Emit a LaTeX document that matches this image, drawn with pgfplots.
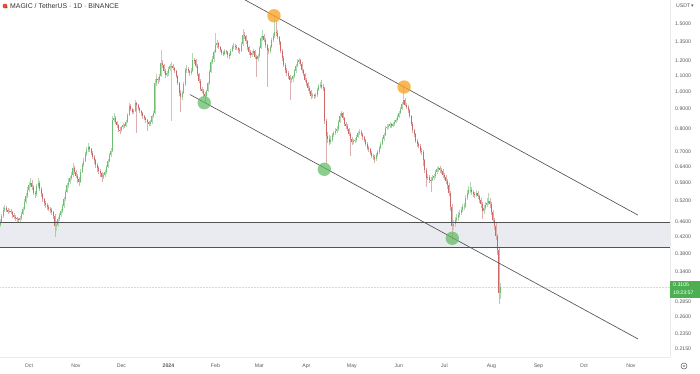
\documentclass[border=0pt]{standalone}
\usepackage{pgfplots}
\pgfplotsset{compat=1.18}
\usepackage{pgfplotstable}
\usepackage{fontspec}
\setmainfont{Liberation Sans}
\newfontfamily\dejavu{DejaVu Sans}
\definecolor{upc}{HTML}{6DBE71}
\definecolor{dnc}{HTML}{CF6767}
\definecolor{upw}{HTML}{B3D9B4}
\definecolor{dnw}{HTML}{DDB0B0}
\definecolor{zonec}{HTML}{E9EBF0}
\definecolor{tvgreen}{HTML}{4CAF50}
\definecolor{orangec}{HTML}{F7A52A}
\definecolor{greenc}{HTML}{5DB85F}
\definecolor{lab}{HTML}{5A5A5A}
\pgfplotstableread{
d o h l c
-19 .452 .466 .446 .459
-18 .459 .482 .455 .476
-17 .476 .502 .470 .493
-16 .493 .508 .486 .498
-15 .498 .505 .488 .494
-14 .494 .499 .481 .488
-13 .488 .497 .483 .491
-12 .491 .496 .480 .487
-11 .487 .490 .470 .477
-10 .477 .484 .466 .473
-9 .473 .478 .462 .469
-8 .469 .474 .458 .466
-7 .466 .471 .459 .465
-6 .465 .475 .460 .469
-5 .469 .486 .464 .481
-4 .481 .503 .477 .497
-3 .497 .525 .492 .517
-2 .517 .545 .511 .536
-1 .536 .566 .530 .554
0 .554 .583 .548 .572
1 .572 .598 .566 .579
2 .579 .588 .556 .565
3 .565 .571 .538 .546
4 .546 .553 .530 .541
5 .541 .575 .536 .568
6 .568 .596 .561 .580
7 .580 .586 .551 .560
8 .560 .566 .533 .541
9 .541 .546 .517 .525
10 .525 .531 .505 .513
11 .513 .520 .499 .507
12 .507 .514 .494 .501
13 .501 .508 .490 .497
14 .497 .503 .485 .492
15 .492 .498 .478 .486
16 .486 .490 .466 .475
17 .475 .480 .419 .448
18 .448 .461 .436 .450
19 .450 .472 .445 .467
20 .467 .483 .462 .477
21 .477 .495 .473 .489
22 .489 .511 .485 .505
23 .505 .533 .500 .526
24 .526 .556 .521 .550
25 .550 .579 .545 .571
26 .571 .595 .563 .582
27 .582 .605 .576 .595
28 .595 .618 .588 .607
29 .607 .652 .601 .635
30 .635 .641 .610 .619
31 .619 .627 .595 .605
32 .605 .611 .578 .594
33 .594 .600 .568 .584
34 .584 .628 .580 .620
35 .620 .653 .614 .645
36 .645 .672 .637 .661
37 .661 .697 .655 .688
38 .688 .718 .680 .704
39 .704 .735 .697 .716
40 .716 .724 .698 .708
41 .708 .715 .685 .694
42 .694 .699 .669 .678
43 .678 .684 .650 .663
44 .663 .668 .632 .646
45 .646 .651 .620 .633
46 .633 .640 .612 .622
47 .622 .628 .600 .613
48 .613 .617 .583 .599
49 .599 .613 .592 .607
50 .607 .624 .601 .617
51 .617 .645 .611 .638
52 .638 .670 .632 .661
53 .661 .694 .655 .685
54 .685 .712 .678 .700
55 .700 .862 .695 .844
56 .844 .878 .832 .856
57 .856 .864 .824 .833
58 .833 .840 .806 .819
59 .819 .825 .785 .797
60 .797 .808 .774 .795
61 .795 .816 .786 .808
62 .808 .828 .800 .819
63 .819 .826 .805 .814
64 .814 .842 .808 .833
65 .833 .880 .827 .869
66 .869 .932 .862 .917
67 .917 .926 .889 .900
68 .900 .906 .872 .884
69 .884 .903 .876 .892
70 .892 .948 .886 .932
71 .932 .940 .780 .921
72 .921 .928 .893 .905
73 .905 .912 .880 .891
74 .891 .897 .866 .878
75 .878 .884 .851 .863
76 .863 .870 .842 .853
77 .853 .860 .830 .844
78 .844 .850 .790 .833
79 .833 .840 .812 .825
80 .825 .843 .815 .832
81 .832 .871 .826 .863
82 .863 .890 .855 .879
83 .879 1.075 .872 1.050
84 1.050 1.110 1.035 1.080
85 1.080 1.092 1.048 1.070
86 1.070 1.108 1.058 1.094
87 1.094 1.280 1.088 1.186
88 1.186 1.205 1.150 1.168
89 1.168 1.180 1.115 1.133
90 1.133 1.142 1.085 1.104
91 1.104 1.130 1.090 1.118
92 1.118 1.155 1.100 1.143
93 1.143 1.178 1.130 1.161
94 1.161 1.190 .840 1.166
95 1.166 1.180 1.135 1.150
96 1.150 1.160 1.115 1.131
97 1.131 1.140 1.085 1.097
98 1.097 1.105 1.040 1.052
99 1.052 1.060 .975 .994
100 .994 1.010 .885 .969
101 .969 1.005 .950 .994
102 .994 1.058 .985 1.044
103 1.044 1.150 1.035 1.137
104 1.137 1.170 1.120 1.147
105 1.147 1.160 1.115 1.131
106 1.131 1.140 1.100 1.118
107 1.118 1.148 1.105 1.133
108 1.133 1.260 1.125 1.207
109 1.207 1.225 1.180 1.204
110 1.204 1.212 1.150 1.166
111 1.166 1.175 1.095 1.110
112 1.110 1.120 1.050 1.065
113 1.065 1.075 1.000 1.016
114 1.016 1.030 .990 1.006
115 1.006 1.015 .965 .986
116 .986 .995 .935 .975
117 .975 1.012 .965 1.004
118 1.004 1.060 .995 1.049
119 1.049 1.135 1.040 1.124
120 1.124 1.205 1.115 1.191
121 1.191 1.235 1.175 1.211
122 1.211 1.280 1.195 1.266
123 1.266 1.420 1.255 1.323
124 1.323 1.360 1.300 1.336
125 1.336 1.345 1.290 1.306
126 1.306 1.315 1.265 1.281
127 1.281 1.290 1.240 1.262
128 1.262 1.275 1.235 1.251
129 1.251 1.290 1.240 1.274
130 1.274 1.285 1.250 1.264
131 1.264 1.272 1.225 1.245
132 1.245 1.260 1.215 1.244
133 1.244 1.290 1.235 1.274
134 1.274 1.320 1.265 1.302
135 1.302 1.335 1.290 1.316
136 1.316 1.330 1.285 1.304
137 1.304 1.320 1.280 1.296
138 1.296 1.305 1.255 1.278
139 1.278 1.295 1.250 1.277
140 1.277 1.345 1.265 1.325
141 1.325 1.450 1.315 1.401
142 1.401 1.425 1.365 1.393
143 1.393 1.405 1.330 1.350
144 1.350 1.360 1.285 1.303
145 1.303 1.315 1.245 1.268
146 1.268 1.280 1.225 1.243
147 1.243 1.275 1.230 1.257
148 1.257 1.290 1.245 1.274
149 1.274 1.285 1.215 1.232
150 1.232 1.245 1.090 1.217
151 1.217 1.250 1.200 1.236
152 1.236 1.315 1.225 1.300
153 1.300 1.390 1.290 1.373
154 1.373 1.440 1.355 1.395
155 1.395 1.410 1.345 1.364
156 1.364 1.375 1.300 1.317
157 1.317 1.325 1.030 1.281
158 1.281 1.295 1.250 1.270
159 1.270 1.320 1.260 1.304
160 1.304 1.375 1.295 1.356
161 1.356 1.420 1.340 1.396
162 1.396 1.580 1.380 1.430
163 1.430 1.530 1.395 1.419
164 1.419 1.440 1.365 1.385
165 1.385 1.395 1.320 1.340
166 1.340 1.350 1.260 1.277
167 1.277 1.290 1.200 1.221
168 1.221 1.235 1.155 1.172
169 1.172 1.185 1.115 1.135
170 1.135 1.150 1.100 1.120
171 1.120 1.130 1.080 1.097
172 1.097 1.105 .951 1.072
173 1.072 1.090 1.050 1.075
174 1.075 1.105 1.060 1.094
175 1.094 1.145 1.085 1.131
176 1.131 1.180 1.120 1.167
177 1.167 1.215 1.155 1.195
178 1.195 1.225 1.180 1.206
179 1.206 1.215 1.165 1.181
180 1.181 1.190 1.120 1.136
181 1.136 1.145 1.095 1.109
182 1.109 1.120 1.060 1.073
183 1.073 1.085 1.035 1.049
184 1.049 1.060 1.005 1.024
185 1.024 1.035 .985 1.000
186 1.000 1.010 .955 .973
187 .973 .990 .960 .978
188 .978 .988 .958 .973
189 .973 .992 .962 .978
190 .978 1.022 .970 1.011
191 1.011 1.045 1.000 1.033
192 1.033 1.060 1.020 1.040
193 1.040 1.071 1.015 1.030
194 1.030 1.045 1.005 1.021
195 1.021 1.030 .825 .840
196 .840 .850 .650 .765
197 .765 .785 .735 .753
198 .753 .770 .725 .741
199 .741 .765 .730 .748
200 .748 .782 .738 .770
201 .770 .792 .760 .780
202 .780 .802 .770 .790
203 .790 .815 .780 .800
204 .800 .845 .792 .835
205 .835 .878 .828 .866
206 .866 .892 .858 .877
207 .877 .885 .845 .853
208 .853 .860 .815 .824
209 .824 .835 .800 .813
210 .813 .822 .788 .799
211 .799 .805 .765 .777
212 .777 .785 .680 .752
213 .752 .760 .728 .739
214 .739 .752 .730 .744
215 .744 .758 .735 .747
216 .747 .772 .740 .764
217 .764 .790 .758 .780
218 .780 .800 .772 .787
219 .787 .795 .765 .775
220 .775 .782 .750 .760
221 .760 .768 .738 .749
222 .749 .755 .722 .732
223 .732 .740 .705 .715
224 .715 .722 .698 .709
225 .709 .715 .683 .694
226 .694 .700 .672 .681
227 .681 .690 .664 .676
228 .676 .684 .652 .670
229 .670 .693 .662 .686
230 .686 .705 .678 .697
231 .697 .722 .690 .714
232 .714 .740 .708 .731
233 .731 .760 .725 .751
234 .751 .782 .745 .771
235 .771 .815 .765 .804
236 .804 .822 .795 .809
237 .809 .826 .800 .814
238 .814 .835 .805 .823
239 .823 .830 .802 .814
240 .814 .836 .808 .824
241 .824 .845 .815 .834
242 .834 .856 .828 .844
243 .844 .870 .838 .859
244 .859 .892 .852 .882
245 .882 .912 .875 .901
246 .901 .940 .895 .928
247 .928 1.027 .920 .953
248 .953 .962 .915 .925
249 .925 .935 .900 .911
250 .911 .920 .882 .895
251 .895 .902 .855 .864
252 .864 .870 .815 .826
253 .826 .832 .782 .793
254 .793 .800 .762 .775
255 .775 .782 .735 .744
256 .744 .752 .720 .732
257 .732 .740 .712 .724
258 .724 .730 .692 .703
259 .703 .712 .685 .697
260 .697 .705 .640 .664
261 .664 .670 .615 .626
262 .626 .632 .565 .597
263 .597 .612 .588 .602
264 .602 .608 .580 .591
265 .591 .600 .548 .590
266 .590 .606 .585 .598
267 .598 .612 .590 .605
268 .605 .626 .598 .618
269 .618 .636 .612 .628
270 .628 .642 .620 .633
271 .633 .640 .615 .626
272 .626 .632 .610 .621
273 .621 .628 .598 .609
274 .609 .615 .590 .601
275 .601 .607 .575 .586
276 .586 .592 .560 .571
277 .571 .578 .535 .545
278 .545 .552 .490 .503
279 .503 .510 .412 .448
280 .448 .465 .438 .454
281 .454 .472 .446 .464
282 .464 .480 .456 .470
283 .470 .488 .462 .479
284 .479 .494 .472 .485
285 .485 .502 .478 .493
286 .493 .510 .486 .501
287 .501 .515 .492 .505
288 .505 .538 .500 .530
289 .530 .556 .524 .547
290 .547 .568 .540 .554
291 .554 .582 .545 .555
292 .555 .565 .540 .550
293 .550 .556 .532 .542
294 .542 .550 .528 .539
295 .539 .555 .532 .545
296 .545 .552 .526 .536
297 .536 .540 .514 .523
298 .523 .528 .500 .511
299 .511 .516 .468 .490
300 .490 .508 .482 .500
301 .500 .516 .494 .508
302 .508 .528 .502 .515
303 .515 .545 .508 .520
304 .520 .530 .500 .512
305 .512 .518 .478 .487
306 .487 .492 .455 .464
307 .464 .470 .438 .449
308 .449 .455 .412 .422
309 .422 .428 .376 .388
310 .388 .392 .282 .300
311 .300 .318 .290 .3105
}\data
\begin{document}
\begin{tikzpicture}
\begin{axis}[name=ax, at={(0pt,16pt)}, anchor=south west,
  width=670pt, height=357pt, scale only axis,
  ymode=log, xmin=-19.1, xmax=422.8, ymin=0.2049, ymax=1.727,
  axis x line*=bottom, axis y line*=right, axis line style={draw=black!8},
  major tick length=0pt, minor tick length=0pt,
  ytick={0.215,0.235,0.26,0.285,0.34,0.38,0.42,0.46,0.52,0.58,0.64,0.7,0.8,0.9,1.0,1.1,1.2,1.35,1.5},
  yticklabels={0.2150,0.2350,0.2600,0.2850,0.3400,0.3800,0.4200,0.4600,0.5200,0.5800,0.6400,0.7000,0.8000,0.9000,1.0000,1.1000,1.2000,1.3500,1.5000},
  yticklabel style={anchor=west, inner sep=0pt, xshift=5pt, font=\fontsize{5.2}{6}\selectfont, text=lab},
  xtick={0,31,61,92,123,152,183,213,244,274,305,336,366,397},
  xticklabels={Oct,Nov,Dec,\textbf{2024},Feb,Mar,Apr,May,Jun,Jul,Aug,Sep,Oct,Nov},
  xticklabel style={anchor=center, inner sep=0pt, yshift=-9pt, font=\fontsize{5.2}{6}\selectfont, text=lab},
]
\addplot[fill=zonec, draw=none, forget plot] coordinates {(-19.1,0.3936) (422.8,0.3936) (422.8,0.4578) (-19.1,0.4578)} -- cycle;
\addplot[black!15, densely dotted, line width=0.5pt, forget plot] coordinates {(-19.1,0.3105) (422.8,0.3105)};
% wicks
\addplot[draw=none, forget plot, restrict expr to domain={\thisrow{c}-\thisrow{o}}{0:10},
  error bars/.cd, y dir=plus, y explicit, error mark=none, error bar style={draw=upw, line width=0.45pt}]
  table[x=d, y=l, y error plus expr={\thisrow{h}-\thisrow{l}}] {\data};
\addplot[draw=none, forget plot, restrict expr to domain={\thisrow{c}-\thisrow{o}}{-10:0},
  error bars/.cd, y dir=plus, y explicit, error mark=none, error bar style={draw=dnw, line width=0.45pt}]
  table[x=d, y=l, y error plus expr={\thisrow{h}-\thisrow{l}}] {\data};
% bodies
\addplot[draw=none, forget plot, restrict expr to domain={\thisrow{c}-\thisrow{o}}{0:10},
  error bars/.cd, y dir=plus, y explicit, error mark=none, error bar style={draw=upc, line width=1.0pt}]
  table[x=d, y=o, y error plus expr={\thisrow{c}-\thisrow{o}}] {\data};
\addplot[draw=none, forget plot, restrict expr to domain={\thisrow{c}-\thisrow{o}}{-10:0},
  error bars/.cd, y dir=plus, y explicit, error mark=none, error bar style={draw=dnc, line width=1.0pt}]
  table[x=d, y=c, y error plus expr={\thisrow{o}-\thisrow{c}}] {\data};
% zone lines
\addplot[black!68, line width=0.75pt, forget plot] coordinates {(-19.1,0.4578) (422.8,0.4578)};
\addplot[black!68, line width=0.75pt, forget plot] coordinates {(-19.1,0.3936) (422.8,0.3936)};
% channel
\addplot[black!68, line width=0.65pt, forget plot] coordinates {(138,1.767) (401.7,0.478)};
\addplot[black!68, line width=0.65pt, forget plot] coordinates {(106.2,0.982) (401.7,0.2282)};
% touch points
\addplot[only marks, mark=*, mark size=6.7pt, orangec, mark options={draw=orangec, fill=orangec, draw opacity=0, fill opacity=0.8}, forget plot] coordinates {(161.6,1.572) (247.4,1.027)};
\addplot[only marks, mark=*, mark size=6.7pt, greenc, mark options={draw=greenc, fill=greenc, draw opacity=0, fill opacity=0.7}, forget plot] coordinates {(115.6,0.935) (194.8,0.6285) (279.2,0.4163)};
\coordinate (pl) at (axis cs:422.8,0.3105);
\end{axis}
\fill[tvgreen] ([yshift=6.5pt]pl) rectangle ++(30pt,-17pt);
\node[anchor=west, text=white, font=\fontsize{5.2}{6}\selectfont, inner sep=0pt] at ([xshift=3pt,yshift=2.3pt]pl) {0.3105};
\node[anchor=west, text=white, font=\fontsize{5.2}{6}\selectfont, inner sep=0pt] at ([xshift=3pt,yshift=-5.3pt]pl) {19:23:57};
\fill[red!75] (5pt,367pt) circle (2.4pt);
\fill[green!60!black] (6.5pt,365.5pt) circle (1pt);
\node[anchor=west, font=\fontsize{6.9}{8}\selectfont, text=black!80, inner sep=0pt] at (10pt,367pt) {MAGIC / TetherUS · 1D · BINANCE};
\node[anchor=west, font=\fontsize{5.2}{6}\selectfont, text=lab, inner sep=0pt] at (676pt,367pt) {USDT};
\node[anchor=west, font=\dejavu\fontsize{5}{6}\selectfont, text=lab, inner sep=0pt] at (691pt,367pt) {▾};
\draw[lab, line width=0.5pt] (684pt,7pt) circle (3pt);
\fill[lab] (684pt,7pt) circle (0.9pt);
\pgfresetboundingbox
\path[use as bounding box] (0pt,0pt) rectangle (700pt,373pt);
\end{tikzpicture}
\end{document}
